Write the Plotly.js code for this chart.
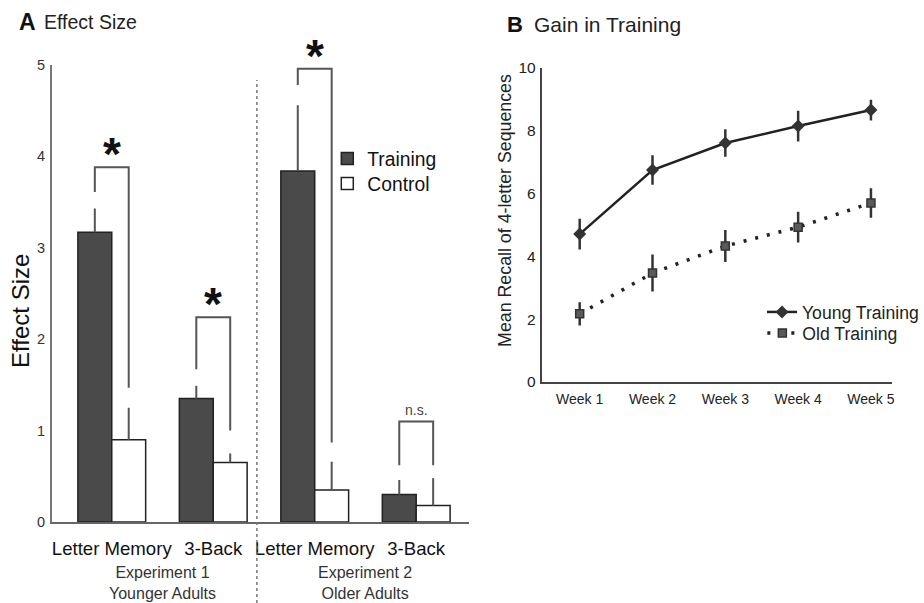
<!DOCTYPE html>
<html><head><meta charset="utf-8">
<script src="https://cdn.plot.ly/plotly-3.0.1.min.js"></script>
<style>html,body{margin:0;padding:0;background:#fff;}</style>
</head><body><div id="chart" style="width:924px;height:603px;"></div>
<script>
// Panel A data
const taskLabels = ['Letter Memory', '3-Back', 'Letter Memory', '3-Back'];
const taskPos = [0, 1, 2, 3];
const trainingEffect = [3.17, 1.35, 3.84, 0.30];
const trainingErr = [0.26, 0.14, 0.72, 0.16];
const controlEffect = [0.90, 0.65, 0.35, 0.18];
const controlErr = [0.35, 0.10, 0.31, 0.30];
const bracketTop = [3.88, 2.24, 4.96, 1.10];
const bracketLegLeft = [3.61, 1.67, 4.78, 0.62];
const bracketLegRight = [1.47, 1.00, 0.87, 0.62];
const sigLabels = ['*', '*', '*', 'n.s.'];
const experimentNames = ['Experiment 1', 'Experiment 2'];
const groupNames = ['Younger Adults', 'Older Adults'];

// Panel B data
const weeks = ['Week 1', 'Week 2', 'Week 3', 'Week 4', 'Week 5'];
const youngRecall = [4.71, 6.75, 7.61, 8.15, 8.66];
const youngErr = [0.49, 0.47, 0.44, 0.49, 0.33];
const oldRecall = [2.17, 3.47, 4.33, 4.93, 5.70];
const oldErr = [0.37, 0.59, 0.51, 0.49, 0.47];

const FONT = 'Liberation Sans, Arial, sans-serif';
const half = 0.167;
const noMinus = v => v.map(() => 0);

const traces = [
  {type: 'bar', name: 'Training', x: taskPos, y: trainingEffect,
   marker: {color: '#4a4a4a', line: {color: '#222', width: 1.5}},
   error_y: {type: 'data', symmetric: false, array: trainingErr, arrayminus: noMinus(trainingErr), width: 0, thickness: 2, color: '#555'},
   xaxis: 'x', yaxis: 'y', legend: 'legend'},
  {type: 'bar', name: 'Control', x: taskPos, y: controlEffect,
   marker: {color: '#ffffff', line: {color: '#222', width: 1.5}},
   error_y: {type: 'data', symmetric: false, array: controlErr, arrayminus: noMinus(controlErr), width: 0, thickness: 2, color: '#555'},
   xaxis: 'x', yaxis: 'y', legend: 'legend3'}
];

taskPos.forEach((p, i) => {
  traces.push({type: 'scatter', mode: 'lines', showlegend: false, hoverinfo: 'skip',
    x: [p - half, p - half, p + half, p + half],
    y: [bracketLegLeft[i], bracketTop[i], bracketTop[i], bracketLegRight[i]],
    line: {color: '#555', width: 2}, xaxis: 'x', yaxis: 'y'});
});

traces.push({type: 'scatter', mode: 'lines+markers', name: 'Young Training', x: weeks, y: youngRecall,
  line: {color: '#222', width: 2.5},
  marker: {symbol: 'diamond', size: 10, color: '#333'},
  error_y: {type: 'data', array: youngErr, width: 0, thickness: 2.5, color: '#333'},
  xaxis: 'x2', yaxis: 'y2', legend: 'legend2'});
traces.push({type: 'scatter', mode: 'lines+markers', name: 'Old Training', x: weeks, y: oldRecall,
  line: {color: '#222', width: 3.5, dash: '3px,9px'},
  marker: {symbol: 'square', size: 8, color: '#5a5a5a', line: {color: '#333', width: 1.5}},
  error_y: {type: 'data', array: oldErr, width: 0, thickness: 2.5, color: '#333'},
  xaxis: 'x2', yaxis: 'y2', legend: 'legend4'});

const annotations = [
  {text: '<b>A</b>', x: 17 / 924, y: 1 - 22 / 603, xref: 'paper', yref: 'paper', xanchor: 'left', yanchor: 'middle', showarrow: false, font: {size: 23, color: '#111', family: FONT}},
  {text: 'Effect Size', x: 42 / 924, y: 1 - 22 / 603, xref: 'paper', yref: 'paper', xanchor: 'left', yanchor: 'middle', showarrow: false, font: {size: 19.5, color: '#222', family: FONT}},
  {text: '<b>B</b>', x: 506 / 924, y: 1 - 24 / 603, xref: 'paper', yref: 'paper', xanchor: 'left', yanchor: 'middle', showarrow: false, font: {size: 22, color: '#111', family: FONT}},
  {text: 'Gain in Training', x: 533 / 924, y: 1 - 24 / 603, xref: 'paper', yref: 'paper', xanchor: 'left', yanchor: 'middle', showarrow: false, font: {size: 21, color: '#222', family: FONT}},
  {text: 'Effect Size', x: 20 / 924, y: 1 - 311 / 603, xref: 'paper', yref: 'paper', xanchor: 'center', yanchor: 'middle', textangle: -90, showarrow: false, font: {size: 24, color: '#111', family: FONT}},
  {text: 'Mean Recall of 4-letter Sequences', x: 506 / 924, y: 1 - 210 / 603, xref: 'paper', yref: 'paper', xanchor: 'center', yanchor: 'middle', textangle: -90, showarrow: false, font: {size: 17.8, color: '#222', family: FONT}}
];
taskPos.forEach((p, i) => {
  const star = sigLabels[i] === '*';
  annotations.push({text: star ? '<b>*</b>' : sigLabels[i], x: p, y: bracketTop[i], xref: 'x', yref: 'y',
    xanchor: 'center', yanchor: 'bottom', showarrow: false, yshift: star ? -15 : 1,
    font: {size: star ? 46 : 14, color: star ? '#111' : '#444', family: FONT}});
});
experimentNames.forEach((t, k) => {
  const xc = (taskPos[2 * k] + taskPos[2 * k + 1]) / 2;
  annotations.push({text: t + '<br>' + groupNames[k], x: xc, y: 1 - 582.5 / 603, xref: 'x', yref: 'paper',
    xanchor: 'center', yanchor: 'middle', showarrow: false, font: {size: 16, color: '#333', family: FONT}});
});

const legendBase = {xanchor: 'left', yanchor: 'middle', bgcolor: 'rgba(0,0,0,0)', itemwidth: 30, tracegroupgap: 0};

const layout = {
  width: 924, height: 603,
  margin: {l: 0, r: 0, t: 0, b: 0},
  paper_bgcolor: '#fff', plot_bgcolor: 'rgba(0,0,0,0)',
  font: {family: FONT, color: '#222'},
  barmode: 'group', bargap: 0.332, bargroupgap: 0,
  xaxis: {domain: [52 / 924, 470 / 924], anchor: 'y', range: [-0.59, 3.52],
    tickvals: taskPos, ticktext: taskLabels, showline: true, linecolor: '#666', linewidth: 2,
    showgrid: false, zeroline: false, ticks: 'outside', ticklen: 9, tickcolor: 'rgba(0,0,0,0)',
    tickfont: {size: 18.6, color: '#111'}},
  yaxis: {domain: [1 - 522 / 603, 1 - 65 / 603], anchor: 'x', range: [0, 5], dtick: 1,
    showline: true, linecolor: '#777', linewidth: 2, showgrid: false, zeroline: false,
    ticks: 'outside', ticklen: 2, tickcolor: 'rgba(0,0,0,0)', tickfont: {size: 14.5, color: '#333'}},
  xaxis2: {domain: [543 / 924, 894 / 924], anchor: 'y2', type: 'category', range: [-0.52, 4.29],
    showline: true, linecolor: '#444', linewidth: 2, showgrid: false, zeroline: false,
    ticks: 'outside', ticklen: 3, tickcolor: 'rgba(0,0,0,0)', tickfont: {size: 14, color: '#222'}},
  yaxis2: {domain: [1 - 382 / 603, 1 - 68 / 603], anchor: 'x2', range: [0, 10], dtick: 2,
    showline: true, linecolor: '#444', linewidth: 2, showgrid: false, zeroline: false,
    ticks: 'outside', ticklen: 1, tickcolor: 'rgba(0,0,0,0)', tickfont: {size: 15.5, color: '#222'}},
  legend: Object.assign({}, legendBase, {x: 328 / 924, y: 1 - 159 / 603, font: {size: 19.3, color: '#111'}}),
  legend3: Object.assign({}, legendBase, {x: 328 / 924, y: 1 - 184 / 603, font: {size: 19.3, color: '#111'}}),
  legend2: Object.assign({}, legendBase, {x: 764 / 924, y: 1 - 312 / 603, font: {size: 17.6, color: '#222'}}),
  legend4: Object.assign({}, legendBase, {x: 764 / 924, y: 1 - 333 / 603, font: {size: 17.6, color: '#222'}}),
  shapes: [
    {type: 'line', xref: 'x', yref: 'paper', x0: 1.43, x1: 1.43, y0: 0, y1: 1 - 80 / 603,
     line: {color: '#777', width: 1.5, dash: 'dot'}}
  ],
  annotations: annotations,
  showlegend: true
};

Plotly.newPlot('chart', traces, layout, {displayModeBar: false, staticPlot: true});
</script>
</body></html>
